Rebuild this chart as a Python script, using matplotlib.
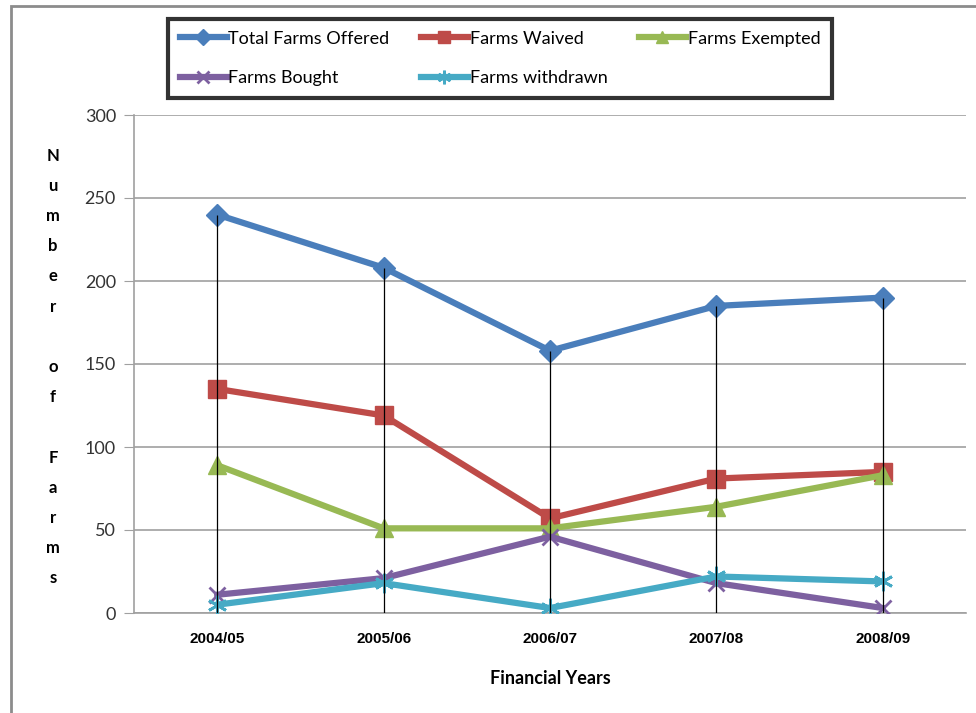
import numpy as np
import matplotlib.pyplot as plt
from matplotlib.patches import Rectangle

# Farm figures per financial year
years = ['2004/05', '2005/06', '2006/07', '2007/08', '2008/09']
total_offered = [240, 208, 158, 185, 190]
farms_waived = [135, 119, 57, 81, 85]
farms_exempted = [89, 51, 51, 64, 83]
farms_bought = [11, 21, 46, 18, 3]
farms_withdrawn = [5, 18, 3, 22, 19]

plt.rcParams['font.family'] = ['Lato', 'DejaVu Sans']

fig = plt.figure(figsize=(9.76, 7.13), dpi=100)
ax = fig.add_axes([134/976, 1-613/713, 832/976, 498/713])

x = np.arange(len(years))

series = [
    (total_offered, 'Total Farms Offered', '#4A7EBB', 'D', 11, 1.0),
    (farms_waived, 'Farms Waived', '#BE4B48', 's', 13, 1.0),
    (farms_exempted, 'Farms Exempted', '#98B954', '^', 13, 1.0),
    (farms_bought, 'Farms Bought', '#7D60A0', 'x', 12, 2.0),
    (farms_withdrawn, 'Farms withdrawn', '#46AAC5', (6, 2, 0), 14, 2.0),
]

lines = {}
for vals, label, col, mk, ms, mew in series:
    ln, = ax.plot(x, vals, color=col, lw=4.5, marker=mk, markersize=ms,
                  markerfacecolor=col, markeredgecolor=col, markeredgewidth=mew,
                  label=label, zorder=3, solid_joinstyle='round')
    lines[label] = ln

# drop lines from the highest series down to the axis
ax.vlines(x, 0, total_offered, color='black', lw=0.9, zorder=4)

ax.set_xlim(-0.5, 4.5)
ax.set_ylim(0, 300)
ax.set_yticks(np.arange(0, 301, 50))
ax.set_xticks(x)
ax.set_xticklabels(years, fontfamily='Liberation Sans', fontsize=11,
                   fontweight='bold')
ax.tick_params(axis='x', length=0, pad=14)
ax.tick_params(axis='y', length=7, color='#A0A0A0', labelsize=13,
               pad=6, labelcolor='#333333')
ax.yaxis.grid(True, color='#A0A0A0', lw=1.2)
ax.set_axisbelow(True)
for s in ['top', 'right']:
    ax.spines[s].set_visible(False)
for s in ['left', 'bottom']:
    ax.spines[s].set_color('#A0A0A0')
    ax.spines[s].set_linewidth(1.2)

ax.set_xlabel('Financial Years', fontsize=13, fontweight='bold', labelpad=17)

ylab = '\n'.join('Number of Farms')
fig.text(53/976, 1-367/713, ylab, ha='center', va='center', fontsize=12,
         fontweight='bold', linespacing=2.09)

# legend filled column by column, so order gives the two rows
order = ['Total Farms Offered', 'Farms Bought', 'Farms Waived',
         'Farms withdrawn', 'Farms Exempted']
leg = fig.legend([lines[k] for k in order], order, loc='upper left',
                 bbox_to_anchor=(168/976, 1-93/713, 664/976, 74/713),
                 mode='expand', ncol=3, fontsize=13, frameon=True, fancybox=False,
                 handlelength=2.6, handletextpad=0.1, borderaxespad=0,
                 labelspacing=1.3, markerscale=0.7, borderpad=0.65)
leg.get_frame().set_edgecolor('black')
leg.get_frame().set_linewidth(3)

# outer chart border
fig.patches.append(Rectangle((11/976, -0.1), 2, 1 - 6/713 + 0.1, transform=fig.transFigure,
                             fill=False, edgecolor='#8C8C8C', lw=2))

fig.savefig('out.png', dpi=100)
